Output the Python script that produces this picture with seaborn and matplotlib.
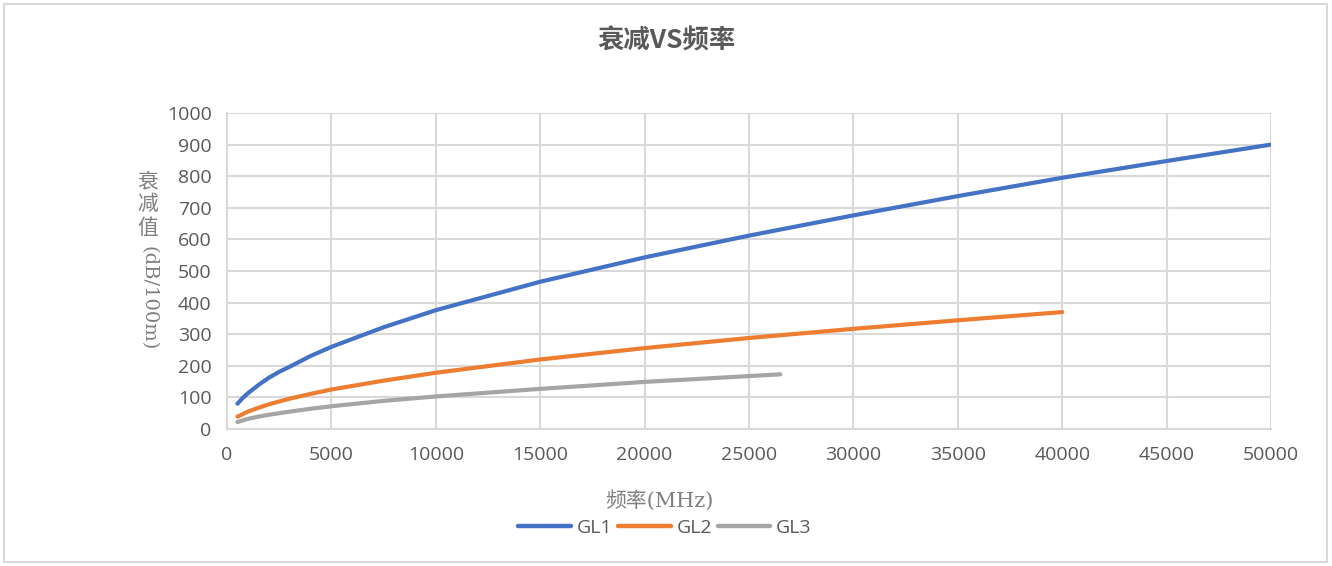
import matplotlib
matplotlib.use("Agg")
import matplotlib.pyplot as plt
from matplotlib.patches import Rectangle
from matplotlib.lines import Line2D
import seaborn as sns
import pandas as pd

# ---- data ----
freq_gl1 = [500, 750, 1000, 1500, 2000, 2500, 3000, 4000, 5000, 7500, 10000, 15000, 20000, 25000, 30000, 35000, 40000, 45000, 50000]
gl1 = [80, 98, 113, 139, 162, 181, 197, 231, 260, 322, 376, 466, 543, 612, 676, 737, 795, 848, 900]
freq_gl2 = [500, 750, 1000, 1500, 2000, 2500, 3000, 4000, 5000, 7500, 10000, 15000, 20000, 25000, 30000, 35000, 40000]
gl2 = [39, 47, 55, 67, 78, 87, 96, 111, 125, 153, 178, 220, 256, 288, 317, 344, 370]
freq_gl3 = [500, 750, 1000, 1500, 2000, 2500, 3000, 4000, 5000, 7500, 10000, 15000, 20000, 26500]
gl3 = [22, 27, 32, 39, 45, 50, 55, 64, 72, 89, 103, 127, 149, 173]
series_names = ["GL1", "GL2", "GL3"]
colors = ["#4472C4", "#ED7D31", "#A5A5A5"]
x_ticks = list(range(0, 50001, 5000))
y_ticks = list(range(0, 1001, 100))
title = "衰减VS频率"
xlabel = "频率(MHz)"
ylabel_cjk = ["衰", "减", "值"]
ylabel_latin = "(dB/100m)"

df = pd.concat([
    pd.DataFrame({"freq": freq_gl1, "val": gl1, "series": "GL1"}),
    pd.DataFrame({"freq": freq_gl2, "val": gl2, "series": "GL2"}),
    pd.DataFrame({"freq": freq_gl3, "val": gl3, "series": "GL3"}),
], ignore_index=True)

sns.set_theme(style="white")
plt.rcParams["font.family"] = ["Open Sans", "Noto Sans CJK SC", "DejaVu Sans"]

W, H = 1332, 566
fig = plt.figure(figsize=(W / 100, H / 100), dpi=100)
ax = fig.add_axes([227 / W, 1 - 429 / H, (1271 - 227) / W, (429 - 113) / H])

sns.lineplot(data=df, x="freq", y="val", hue="series", hue_order=series_names,
             palette=colors, linewidth=3.0, ax=ax, legend=False, sort=True,
             solid_capstyle="round", solid_joinstyle="round")

ax.set_xlim(0, 50000)
ax.set_ylim(0, 1000)
ax.set_xticks(x_ticks)
ax.set_yticks(y_ticks)
ax.set_xticklabels([str(t) for t in x_ticks])
ax.set_yticklabels([str(t) for t in y_ticks])
ax.grid(True, color="#D9D9D9", linewidth=1.5)
ax.set_axisbelow(True)
for s in ["top", "right"]:
    ax.spines[s].set_visible(False)
for s in ["left", "bottom"]:
    ax.spines[s].set_color("#D9D9D9")
    ax.spines[s].set_linewidth(1.5)
ax.tick_params(axis="both", length=0, labelcolor="#595959", labelsize=14)
ax.tick_params(axis="y", pad=11)
ax.tick_params(axis="x", pad=12)
ax.set_xlabel("")
ax.set_ylabel("")

# title
fig.text(666 / W, 1 - 41 / H, title, ha="center", va="center", fontsize=19,
         fontweight="bold", color="#595959", family=["Noto Sans CJK SC"])

# x label
fig.text(659 / W, 1 - 500 / H, xlabel, ha="center", va="center", fontsize=15,
         color="#7F7F7F", family=["DejaVu Serif", "Noto Sans CJK SC"])

# y label, stacked: CJK upright, latin rotated
for i, ch in enumerate(ylabel_cjk):
    fig.text(148 / W, 1 - (181 + i * 23.3) / H, ch, ha="center", va="center",
             fontsize=15, color="#7F7F7F", family=["Noto Sans CJK SC"])
fig.text(148 / W, 1 - 298 / H, ylabel_latin, ha="center", va="center",
         rotation=-90, fontsize=14, color="#7F7F7F",
         family=["DejaVu Serif", "Noto Sans CJK SC"])

# legend
handles = [Line2D([0], [0], color=c, lw=3.2, solid_capstyle="round") for c in colors]
fig.legend(handles, series_names, loc="center", bbox_to_anchor=(665 / W, 1 - 528 / H),
           ncol=3, frameon=False, fontsize=14, labelcolor="#595959",
           handlelength=2.7, handletextpad=0.3, columnspacing=0.3)

# outer border
fig.patches.append(Rectangle((4 / W, 4 / H), (1327 - 4) / W, (562 - 4) / H,
                             transform=fig.transFigure, fill=False,
                             edgecolor="#D9D9D9", linewidth=1.5))

fig.savefig("out.png", dpi=100, facecolor="white")
